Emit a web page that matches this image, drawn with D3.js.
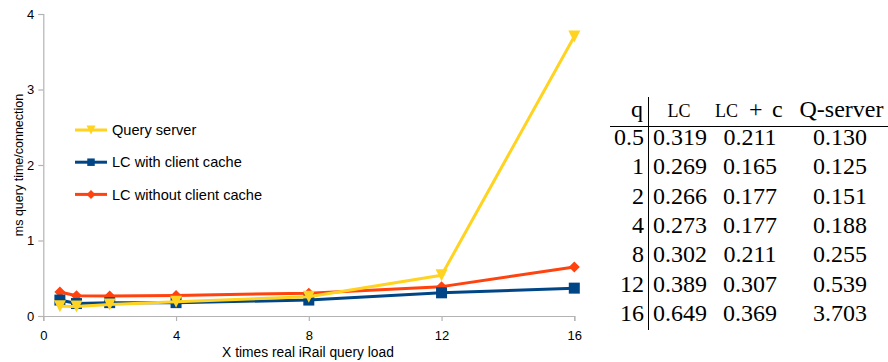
<!DOCTYPE html>
<html>
<head>
<meta charset="utf-8">
<script src="https://cdn.jsdelivr.net/npm/d3@7"></script>
<style>
  html, body { margin: 0; padding: 0; background: #fff; }
  svg { display: block; }
</style>
</head>
<body>
<svg id="chart" width="888" height="362"></svg>
<script>
// ---- data ----
const qLoads = [0.5, 1, 2, 4, 8, 12, 16];
const lcWithout = [0.319, 0.269, 0.266, 0.273, 0.302, 0.389, 0.649];
const lcWith = [0.211, 0.165, 0.177, 0.177, 0.211, 0.307, 0.369];
const queryServer = [0.130, 0.125, 0.151, 0.188, 0.255, 0.539, 3.703];
const xTicks = [0, 4, 8, 12, 16];
const yTicks = [0, 1, 2, 3, 4];
const seriesNames = ["Query server", "LC with client cache", "LC without client cache"];
const tableHeaders = ["q", "LC", "LC + c", "Q-server"];
const rowLabels = ["0.5", "1", "2", "4", "8", "12", "16"];
const colLC = ["0.319", "0.269", "0.266", "0.273", "0.302", "0.389", "0.649"];
const colLCc = ["0.211", "0.165", "0.177", "0.177", "0.211", "0.307", "0.369"];
const colQ = ["0.130", "0.125", "0.151", "0.188", "0.255", "0.539", "3.703"];

const svg = d3.select("#chart");
const axisColor = "#b3b3b3";
const sans = "'Liberation Sans', Arial, sans-serif";
const serif = "'Liberation Serif', 'Times New Roman', serif";

const x = d3.scaleLinear().domain([0, 16]).range([43.3, 574.3]);
const y = d3.scaleLinear().domain([0, 4]).range([316, 14]);

// axes
const gy = svg.append("g").attr("transform", `translate(${x(0)},0)`)
  .call(d3.axisLeft(y).tickValues(yTicks).tickSize(5).tickPadding(4).tickFormat(d3.format("d")));
const gx = svg.append("g").attr("transform", `translate(0,${y(0)})`)
  .call(d3.axisBottom(x).tickValues(xTicks).tickSize(5).tickPadding(10).tickFormat(d3.format("d")));
[gx, gy].forEach(g => {
  g.select(".domain").attr("stroke", axisColor).attr("stroke-width", 1.2);
  g.selectAll(".tick line").attr("stroke", axisColor).attr("stroke-width", 1.2);
  g.selectAll(".tick text").attr("fill", "#000").style("font-family", sans).style("font-size", "13px");
});

// axis titles
svg.append("text").attr("x", 308).attr("y", 357).attr("text-anchor", "middle")
  .style("font-family", sans).style("font-size", "13.8px").text("X times real iRail query load");
svg.append("text").attr("transform", "translate(23,165) rotate(-90)").attr("text-anchor", "middle")
  .style("font-family", sans).style("font-size", "12.5px").text("ms query time/connection");

// marker types
const triDown = {
  draw(ctx, size) {
    const s = Math.sqrt(size);
    ctx.moveTo(-s / 2, -s / 2);
    ctx.lineTo(s / 2, -s / 2);
    ctx.lineTo(0, s / 2);
    ctx.closePath();
  }
};
const diamond = {
  draw(ctx, size) {
    const r = Math.sqrt(size) / 2;
    ctx.moveTo(0, -r);
    ctx.lineTo(r, 0);
    ctx.lineTo(0, r);
    ctx.lineTo(-r, 0);
    ctx.closePath();
  }
};

const series = [
  { name: seriesNames[2], values: lcWithout, color: "#ff420e", type: diamond, size: 121, lsize: 81 },
  { name: seriesNames[1], values: lcWith, color: "#004586", type: d3.symbolSquare, size: 121, lsize: 56 },
  { name: seriesNames[0], values: queryServer, color: "#ffd320", type: triDown, size: 144, lsize: 81 }
];

const line = d3.line().x(d => x(d[0])).y(d => y(d[1]));
series.forEach(s => {
  const pts = qLoads.map((q, i) => [q, s.values[i]]);
  svg.append("path").datum(pts).attr("d", line).attr("fill", "none")
    .attr("stroke", s.color).attr("stroke-width", 3).attr("stroke-linejoin", "round");
  svg.append("g").selectAll("path").data(pts).join("path")
    .attr("transform", d => `translate(${x(d[0])},${y(d[1])})`)
    .attr("d", d3.symbol().type(s.type).size(s.size)).attr("fill", s.color);
});

// legend
const legendOrder = [series[2], series[1], series[0]];
const lg = svg.append("g").selectAll("g").data(legendOrder).join("g")
  .attr("transform", (d, i) => `translate(75,${130 + i * 32.2})`);
lg.append("line").attr("x1", 0).attr("x2", 32).attr("y1", 0).attr("y2", 0)
  .attr("stroke", d => d.color).attr("stroke-width", 3);
lg.append("path").attr("transform", "translate(16,0)")
  .attr("d", d => d3.symbol().type(d.type).size(d.lsize)()).attr("fill", d => d.color);
lg.append("text").attr("x", 37).attr("y", 0).attr("dy", "0.35em")
  .style("font-family", sans).style("font-size", "14.6px").text(d => d.name);

// table
const tb = svg.append("g").style("font-family", serif).style("font-size", "24px").attr("fill", "#000");
const headerY = 117;
const scFont = "18px";
tb.append("text").attr("x", 643).attr("y", headerY).attr("text-anchor", "end").text(tableHeaders[0]);
tb.append("text").attr("x", 679).attr("y", headerY).attr("text-anchor", "middle")
  .style("font-size", scFont).text(tableHeaders[1]);
const h2 = tb.append("text").attr("y", headerY);
h2.append("tspan").attr("x", 715).style("font-size", scFont).text("LC ");
h2.append("tspan").attr("x", 749).text("+ ");
h2.append("tspan").attr("x", 772).text("c");
tb.append("text").attr("x", 841.5).attr("y", headerY).attr("text-anchor", "middle").text(tableHeaders[3]);

svg.append("line").attr("x1", 610).attr("x2", 888).attr("y1", 126.5).attr("y2", 126.5)
  .attr("stroke", "#000").attr("stroke-width", 1);
svg.append("line").attr("x1", 648.5).attr("x2", 648.5).attr("y1", 97).attr("y2", 330)
  .attr("stroke", "#000").attr("stroke-width", 1);

const rowY = i => 145 + i * 29.33;
tb.append("g").selectAll("text").data(rowLabels).join("text")
  .attr("x", 644).attr("y", (d, i) => rowY(i)).attr("text-anchor", "end").text(d => d);
[[colLC, 680], [colLCc, 750], [colQ, 840]].forEach(([col, cx]) => {
  tb.append("g").selectAll("text").data(col).join("text")
    .attr("x", cx).attr("y", (d, i) => rowY(i)).attr("text-anchor", "middle").text(d => d);
});
</script>
</body>
</html>
